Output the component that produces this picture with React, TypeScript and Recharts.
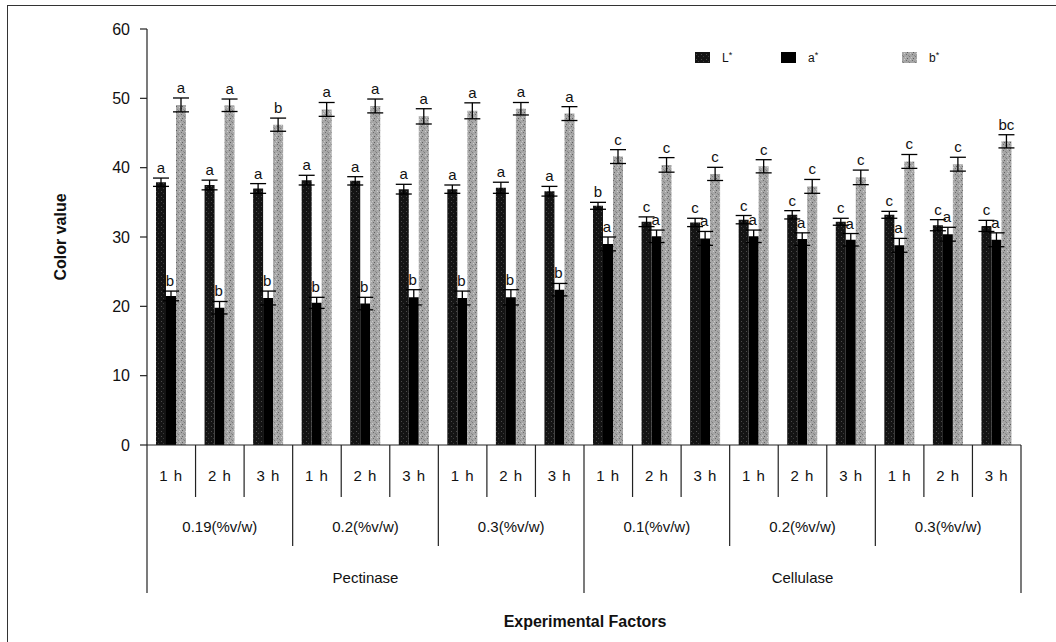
import { Bar, BarChart, ErrorBar, LabelList, Legend, XAxis, YAxis } from "recharts";

const periods = ["1 h", "2 h", "3 h", "1 h", "2 h", "3 h", "1 h", "2 h", "3 h", "1 h", "2 h", "3 h", "1 h", "2 h", "3 h", "1 h", "2 h", "3 h"];
const doses = ["0.19(%v/w)", "0.2(%v/w)", "0.3(%v/w)", "0.1(%v/w)", "0.2(%v/w)", "0.3(%v/w)"];
const enzymes = ["Pectinase", "Cellulase"];
const yTicks = [0, 10, 20, 30, 40, 50, 60];

const lValues = [37.9, 37.5, 37.0, 38.2, 38.1, 36.9, 36.9, 37.1, 36.6, 34.5, 32.2, 32.1, 32.5, 33.2, 32.2, 33.2, 31.7, 31.6];
const lErrors = [0.6, 0.7, 0.7, 0.7, 0.6, 0.7, 0.6, 0.8, 0.7, 0.5, 0.7, 0.6, 0.6, 0.6, 0.5, 0.5, 0.8, 0.8];
const lLetters = ["a", "a", "a", "a", "a", "a", "a", "a", "a", "b", "c", "c", "c", "c", "c", "c", "c", "c"];

const aValues = [21.5, 19.8, 21.2, 20.5, 20.4, 21.3, 21.2, 21.3, 22.4, 29.0, 30.1, 29.8, 30.1, 29.7, 29.6, 28.8, 30.4, 29.6];
const aErrors = [0.7, 0.9, 1.0, 0.8, 0.9, 1.1, 1.0, 1.1, 0.9, 1.0, 0.9, 1.0, 0.9, 0.9, 0.9, 1.0, 1.0, 1.0];
const aLetters = ["b", "b", "b", "b", "b", "b", "b", "b", "b", "a", "a", "a", "a", "a", "a", "a", "a", "a"];

const bValues = [49.05, 49.0, 46.2, 48.4, 48.9, 47.4, 48.2, 48.5, 47.8, 41.6, 40.4, 39.1, 40.2, 37.3, 38.6, 40.9, 40.5, 43.8];
const bErrors = [1.0, 0.9, 0.95, 1.0, 1.0, 1.1, 1.15, 0.9, 1.0, 1.0, 1.05, 0.95, 0.95, 1.0, 1.05, 1.0, 1.0, 0.95];
const bLetters = ["a", "a", "b", "a", "a", "a", "a", "a", "a", "c", "c", "c", "c", "c", "c", "c", "c", "bc"];

const data = periods.map((period, i) => ({
  key: `${i}`,
  period,
  L: lValues[i],
  Lerr: lErrors[i],
  a: aValues[i],
  aerr: aErrors[i],
  b: bValues[i],
  berr: bErrors[i],
}));

const W = 1056;
const H = 642;
const PLOT_LEFT = 147;
const PLOT_RIGHT = 1021;
const PLOT_TOP = 29;
const PLOT_BOTTOM = 445;
const BAND = (PLOT_RIGHT - PLOT_LEFT) / periods.length;
const PX_PER_UNIT = (PLOT_BOTTOM - PLOT_TOP) / 60;
const FONT = "'Liberation Sans', Arial, sans-serif";
const INK = "#111";

function letterLabel(letters: string[], errors: number[], dx: number) {
  return (props: any) => {
    const { x, y, width, index } = props;
    const top = Number(y) - errors[index] * PX_PER_UNIT - 5;
    return (
      <text x={Number(x) + Number(width) / 2 + dx} y={top} textAnchor="middle" fontSize={15} fill={INK} fontFamily={FONT}>
        {letters[index]}
      </text>
    );
  };
}

function CategoryTick(props: any) {
  const { x, payload } = props;
  const i = props.index ?? payload.index ?? 0;
  const right = x + BAND / 2;
  const last = (i + 1) % 9 === 0;
  const endY = last ? 593 : (i + 1) % 3 === 0 ? 546 : 497;
  return (
    <g>
      {i === 0 && <line x1={x - BAND / 2} x2={x - BAND / 2} y1={PLOT_BOTTOM} y2={593} stroke="#222" strokeWidth={1.2} />}
      <line x1={right} x2={right} y1={PLOT_BOTTOM} y2={endY} stroke="#222" strokeWidth={1.2} />
      <text x={x} y={481} textAnchor="middle" fontSize={15} letterSpacing={1} fill={INK} fontFamily={FONT}>
        {payload.value}
      </text>
      {i % 3 === 1 && (
        <text x={x} y={532} textAnchor="middle" fontSize={15} fill={INK} fontFamily={FONT}>
          {doses[Math.floor(i / 3)]}
        </text>
      )}
      {i % 9 === 4 && (
        <text x={x} y={583} textAnchor="middle" fontSize={15} fill={INK} fontFamily={FONT}>
          {enzymes[Math.floor(i / 9)]}
        </text>
      )}
    </g>
  );
}

function LegendBox() {
  const items = [
    { name: "L", fill: "url(#stipDark)", x: 0 },
    { name: "a", fill: "#000", x: 86 },
    { name: "b", fill: "url(#stipLight)", x: 207 },
  ];
  return (
    <svg width={260} height={20}>
      {items.map((it) => (
        <g key={it.name}>
          <rect x={it.x} y={4} width={15} height={11} fill={it.fill} />
          <text x={it.x + 27} y={14} fontSize={12} fill={INK} fontFamily={FONT}>
            {it.name}
            <tspan fontSize={9} dy={-4}>*</tspan>
          </text>
        </g>
      ))}
    </svg>
  );
}

export default function App() {
  return (
    <div style={{ position: "absolute", left: 0, top: 0, width: W, height: H, background: "#fff", fontFamily: FONT }}>
      <div style={{ position: "absolute", left: 7, top: 5, width: W - 7, height: H - 5, borderTop: "1.5px solid #333", borderLeft: "1.5px solid #333" }} />
      <BarChart
        width={W}
        height={H}
        data={data}
        margin={{ top: PLOT_TOP, right: W - PLOT_RIGHT, bottom: 0, left: PLOT_LEFT - 60 }}
        barGap={0}
        barSize={10}
      >
        <defs>
          <pattern id="stipDark" width={5} height={5} patternUnits="userSpaceOnUse">
            <rect width={5} height={5} fill="#141414" />
            <rect x={1} y={1} width={1} height={1} fill="#4a4a4a" />
            <rect x={3} y={3} width={1} height={1} fill="#3a3a3a" />
          </pattern>
          <pattern id="stipLight" width={6} height={6} patternUnits="userSpaceOnUse">
            <rect width={6} height={6} fill="#a6a6a6" />
            <rect x={1} y={0} width={1} height={1} fill="#6c6c6c" />
            <rect x={4} y={2} width={1} height={1} fill="#7a7a7a" />
            <rect x={2} y={4} width={1} height={1} fill="#5f5f5f" />
            <rect x={5} y={5} width={1} height={1} fill="#cfcfcf" />
            <rect x={0} y={3} width={1} height={1} fill="#c8c8c8" />
            <rect x={3} y={1} width={1} height={1} fill="#8a8a8a" />
          </pattern>
        </defs>
        <XAxis
          dataKey="period"
          interval={0}
          height={H - PLOT_BOTTOM}
          tickLine={false}
          axisLine={{ stroke: "#222", strokeWidth: 1.2 }}
          tick={<CategoryTick />}
          label={{
            content: () => (
              <text x={585} y={627} textAnchor="middle" fontSize={16} fontWeight="bold" fill={INK} fontFamily={FONT}>
                Experimental Factors
              </text>
            ),
          }}
        />
        <YAxis
          width={60}
          domain={[0, 60]}
          ticks={yTicks}
          interval={0}
          tickSize={7}
          tickMargin={10}
          axisLine={{ stroke: "#222", strokeWidth: 1.2 }}
          tickLine={{ stroke: "#222", strokeWidth: 1.2 }}
          tick={{ fontSize: 16, fill: INK, fontFamily: FONT }}
          label={{
            content: () => (
              <text x={66} y={237} transform="rotate(-90 66 237)" textAnchor="middle" fontSize={16} fontWeight="bold" fill={INK} fontFamily={FONT}>
                Color value
              </text>
            ),
          }}
        />
        <Legend
          layout="horizontal"
          verticalAlign="middle"
          align="center"
          content={() => <LegendBox />}
          wrapperStyle={{ top: 48, left: 695, width: 260, height: 20 }}
        />
        <Bar dataKey="L" fill="url(#stipDark)" isAnimationActive={false}>
          <ErrorBar dataKey="Lerr" width={8} stroke="#000" strokeWidth={1.3} direction="y" />
          <LabelList dataKey="L" content={letterLabel(lLetters, lErrors, 0)} />
        </Bar>
        <Bar dataKey="a" fill="#000" isAnimationActive={false}>
          <ErrorBar dataKey="aerr" width={8} stroke="#000" strokeWidth={1.3} direction="y" />
          <LabelList dataKey="a" content={letterLabel(aLetters, aErrors, -1)} />
        </Bar>
        <Bar dataKey="b" fill="url(#stipLight)" isAnimationActive={false}>
          <ErrorBar dataKey="berr" width={8} stroke="#000" strokeWidth={1.3} direction="y" />
          <LabelList dataKey="b" content={letterLabel(bLetters, bErrors, 0)} />
        </Bar>
      </BarChart>
    </div>
  );
}
